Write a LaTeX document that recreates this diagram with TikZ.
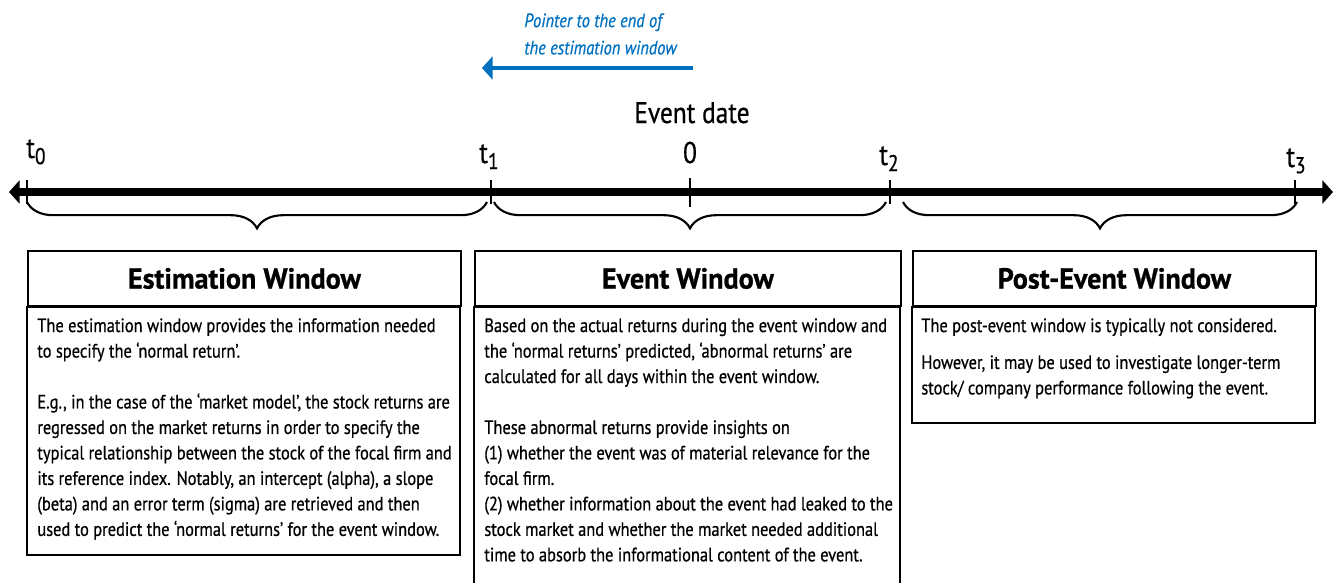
\documentclass[tikz,border=0pt]{standalone}
\usepackage{fontspec}
\setmainfont{PT Sans}[FakeStretch=0.85, FakeBold=0.6]
\newfontfamily\headfont{PT Sans}[FakeStretch=0.97, FakeBold=0.8]
\usetikzlibrary{arrows.meta,decorations.pathreplacing,positioning}
\definecolor{pointerblue}{RGB}{0,112,192}
\newcommand{\tsub}[1]{t\raisebox{-3.5pt}{\fontsize{13}{13}\selectfont#1}}
\tikzset{
  winhead/.style={draw, line width=1.1pt, anchor=north west, inner sep=0pt, minimum height=1.1cm, font=\headfont\bfseries\fontsize{16.5}{18}\selectfont},
  wintext/.style={anchor=north west, inner sep=0pt, align=left, font=\fontsize{11}{14.5}\selectfont},
  winframe/.style={draw, line width=1.1pt},
  tickmark/.style={line width=1.1pt},
  wbrace/.style={decorate, decoration={brace, mirror, amplitude=15pt}, line width=1.2pt},
  timelab/.style={font=\fontsize{17}{17}\selectfont, inner sep=0pt},
}
\begin{document}
\begin{tikzpicture}[x=0.02cm, y=-0.02cm]
	\useasboundingbox (0,0) rectangle (1342,582);
	\coordinate (left)  at (9,192);
	\coordinate (right) at (1333,192);
	\coordinate (t0) at (27,192);
	\coordinate (t1) at (491,192);
	\coordinate (ev) at (690,192);
	\coordinate (t2) at (890,192);
	\coordinate (t3) at (1295,192);
	\draw[line width=4pt, {Triangle[length=6pt,width=13pt]}-{Triangle[length=6pt,width=13pt]}] (left) -- (right);
	\foreach \p in {t0,t1,t2,t3}
		\draw[tickmark] (\p) +(0,-12) -- +(0,12);
	\draw[tickmark] (ev) +(0,-14) -- +(0,15);
	\node[timelab, anchor=base west] (lt0)   at (26,158)  {\tsub{0}};
	\node[timelab, anchor=base]      (lt1)   at (489,163) {\tsub{1}};
	\node[timelab, anchor=base]      (lzero) at (690,163) {0};
	\node[timelab, anchor=base]      (lt2)   at (889,165) {\tsub{2}};
	\node[timelab, anchor=base]      (lt3)   at (1296,167) {\tsub{3}};
	\node[timelab, anchor=base]      (evdate) at (692,123) {Event date};
	\node[font=\itshape\fontsize{11}{15.5}\selectfont, text=pointerblue, align=left, anchor=north west, inner sep=0pt] (ptrtext) at (524,13) {Pointer to the end of\\the estimation window};
	\coordinate (ptrfrom) at (693,68);
	\coordinate (ptrto)   at (482,68);
	\draw[pointerblue, line width=2.2pt, -{Triangle[length=6pt,width=13pt]}] (ptrfrom) -- (ptrto);
	\coordinate (b0l) at (27,202);   \coordinate (b0r) at (487,202);
	\coordinate (b1l) at (494,202);  \coordinate (b1r) at (886,202);
	\coordinate (b2l) at (903,202);  \coordinate (b2r) at (1297,202);
	\draw[wbrace] (b0l) -- (b0r);
	\draw[wbrace] (b1l) -- (b1r);
	\draw[wbrace] (b2l) -- (b2r);
	\node[winhead, minimum width=8.66cm] (esthead) at (27,250) {Estimation Window};
	\draw[winframe] (esthead.south west) rectangle (460,555);
	\node[wintext] (esttext) at (37,318) {The estimation window provides the information needed\\
		to specify the ‘normal return’.\\[14.5pt]
		E.g., in the case of the ‘market model’, the stock returns are\\
		regressed on the market returns in order to specify the\\
		typical relationship between the stock of the focal firm and\\
		its reference index. Notably, an intercept (alpha), a slope\\
		(beta) and an error term (sigma) are retrieved and then\\
		used to predict the ‘normal returns’ for the event window.};
	\node[winhead, minimum width=8.52cm] (evhead) at (474,250) {Event Window};
	\draw[winframe] (evhead.south west) rectangle (900,600);
	\node[wintext] (evtext) at (484,318) {Based on the actual returns during the event window and\\
		the ‘normal returns’ predicted, ‘abnormal returns’ are\\
		calculated for all days within the event window.\\[14.5pt]
		These abnormal returns provide insights on\\
		(1) whether the event was of material relevance for the\\
		focal firm.\\
		(2) whether information about the event had leaked to the\\
		stock market and whether the market needed additional\\
		time to absorb the informational content of the event.};
	\node[winhead, minimum width=8.06cm] (posthead) at (912,250) {Post-Event Window};
	\draw[winframe] (posthead.south west) rectangle (1315,423);
	\node[wintext] (posttext) at (921,318) {The post-event window is typically not considered.\\[6.5pt]
		However, it may be used to investigate longer-term\\
		stock/ company performance following the event.};
\end{tikzpicture}
\end{document}
